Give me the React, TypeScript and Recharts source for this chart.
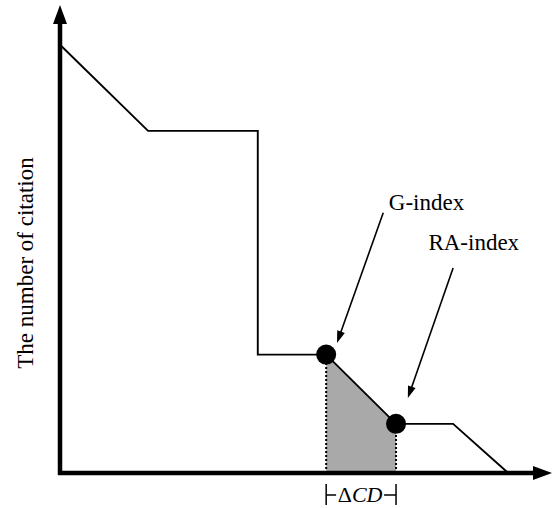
import {
  Area,
  ComposedChart,
  Line,
  ReferenceDot,
  ReferenceLine,
  XAxis,
  YAxis,
} from "recharts";

// Citation curve, papers ranked left to right (arbitrary 0–100 units)
const curveX = [0, 17.9, 40.2, 40.2, 54.1, 68.3, 79.9, 91.1];
const curveY = [91.5, 73.1, 73.1, 25.3, 25.3, 10.5, 10.5, 0];

const gIndex = { x: 54.1, y: 25.3 };
const raIndex = { x: 68.3, y: 10.5 };

const indexLabels = ["G-index", "RA-index"];
const arrowFrom = [
  { x: 65.7, y: 55.6 },
  { x: 79.9, y: 43.8 },
];
const arrowTo = [
  { x: 56.3, y: 27.8 },
  { x: 70.7, y: 16.0 },
];
const labelAt = [
  { x: 74.5, y: 56.2 },
  { x: 84.1, y: 47.6 },
];

const curve = curveX.map((x, i) => ({ x, y: curveY[i] }));
const shade = [gIndex, raIndex];

const FONT = '"Liberation Serif", "Times New Roman", serif';

interface SegProps {
  x1?: number;
  y1?: number;
  x2?: number;
  y2?: number;
}

const makeArrow =
  (width: number, headLen: number, headHalf: number, back = 0) =>
  ({ x1 = 0, y1 = 0, x2 = 0, y2 = 0 }: SegProps) => {
    const a = Math.atan2(y2 - y1, x2 - x1);
    const ux = Math.cos(a);
    const uy = Math.sin(a);
    const bx = x2 - ux * headLen;
    const by = y2 - uy * headLen;
    return (
      <g>
        <line
          x1={x1 - ux * back}
          y1={y1 - uy * back}
          x2={bx + ux * 2}
          y2={by + uy * 2}
          stroke="#000"
          strokeWidth={width}
        />
        <polygon
          points={`${x2},${y2} ${bx - uy * headHalf},${by + ux * headHalf} ${
            bx + uy * headHalf
          },${by - ux * headHalf}`}
          fill="#000"
        />
      </g>
    );
  };

const axisArrow = makeArrow(4.5, 19, 7, 2);
const thinArrow = makeArrow(1.6, 12, 4);

// bracket under the x axis: |- ΔCD -|
const deltaBracket = ({ x1 = 0, y1 = 0, x2 = 0 }: SegProps) => {
  const y = y1 + 22;
  const mid = (x1 + x2) / 2;
  return (
    <g stroke="#000" strokeWidth={1.5}>
      <line x1={x1} y1={y - 11} x2={x1} y2={y + 10} />
      <line x1={x2} y1={y - 11} x2={x2} y2={y + 10} />
      <line x1={x1} y1={y} x2={mid - 25} y2={y} />
      <line x1={mid + 23} y1={y} x2={x2} y2={y} />
      <text
        x={mid - 1}
        y={y + 7}
        textAnchor="middle"
        fontFamily={FONT}
        fontSize={22}
        fill="#000"
        stroke="none"
      >
        Δ<tspan fontStyle="italic">CD</tspan>
      </text>
    </g>
  );
};

export default function App() {
  return (
    <div style={{ position: "absolute", left: 0, top: 0 }}>
      <ComposedChart
        width={553}
        height={508}
        margin={{ top: 5, right: 1, bottom: 35, left: 60 }}
      >
        <XAxis type="number" dataKey="x" domain={[0, 100]} hide />
        <YAxis type="number" dataKey="y" domain={[0, 100]} hide />

        <Area
          data={shade}
          dataKey="y"
          type="linear"
          fill="#a9a9a9"
          fillOpacity={1}
          stroke="none"
          isAnimationActive={false}
        />

        {shade.map((p, i) => (
          <ReferenceLine
            key={`drop-${i}`}
            segment={[
              { x: p.x, y: 0 },
              { x: p.x, y: p.y },
            ]}
            stroke="#000"
            strokeWidth={2}
            strokeDasharray="2 2"
          />
        ))}

        <Line
          data={curve}
          dataKey="y"
          type="linear"
          stroke="#000"
          strokeWidth={1.9}
          dot={false}
          activeDot={false}
          isAnimationActive={false}
        />

        <ReferenceLine
          segment={[
            { x: 0, y: 0 },
            { x: 0, y: 100 },
          ]}
          shape={axisArrow}
        />
        <ReferenceLine
          segment={[
            { x: 0, y: 0 },
            { x: 100, y: 0 },
          ]}
          shape={axisArrow}
        />

        <ReferenceLine
          segment={[
            { x: gIndex.x, y: 0 },
            { x: raIndex.x, y: 0 },
          ]}
          shape={deltaBracket}
        />

        {indexLabels.map((name, i) => (
          <ReferenceLine
            key={`arrow-${name}`}
            segment={[arrowFrom[i], arrowTo[i]]}
            shape={thinArrow}
          />
        ))}
        {indexLabels.map((name, i) => (
          <ReferenceDot
            key={`label-${name}`}
            x={labelAt[i].x}
            y={labelAt[i].y}
            r={0}
            shape={({ cx, cy }: { cx?: number; cy?: number }) => (
              <text
                x={cx}
                y={cy}
                textAnchor="middle"
                fontFamily={FONT}
                fontSize={23}
                fill="#000"
              >
                {name}
              </text>
            )}
          />
        ))}

        <ReferenceDot
          x={gIndex.x}
          y={gIndex.y}
          r={10}
          fill="#000"
          stroke="none"
        />
        <ReferenceDot
          x={raIndex.x}
          y={raIndex.y}
          r={10}
          fill="#000"
          stroke="none"
        />

        <text
          x={33}
          y={263}
          transform="rotate(-90 33 263)"
          textAnchor="middle"
          fontFamily={FONT}
          fontSize={23}
          fill="#000"
        >
          The number of citation
        </text>
      </ComposedChart>
    </div>
  );
}
